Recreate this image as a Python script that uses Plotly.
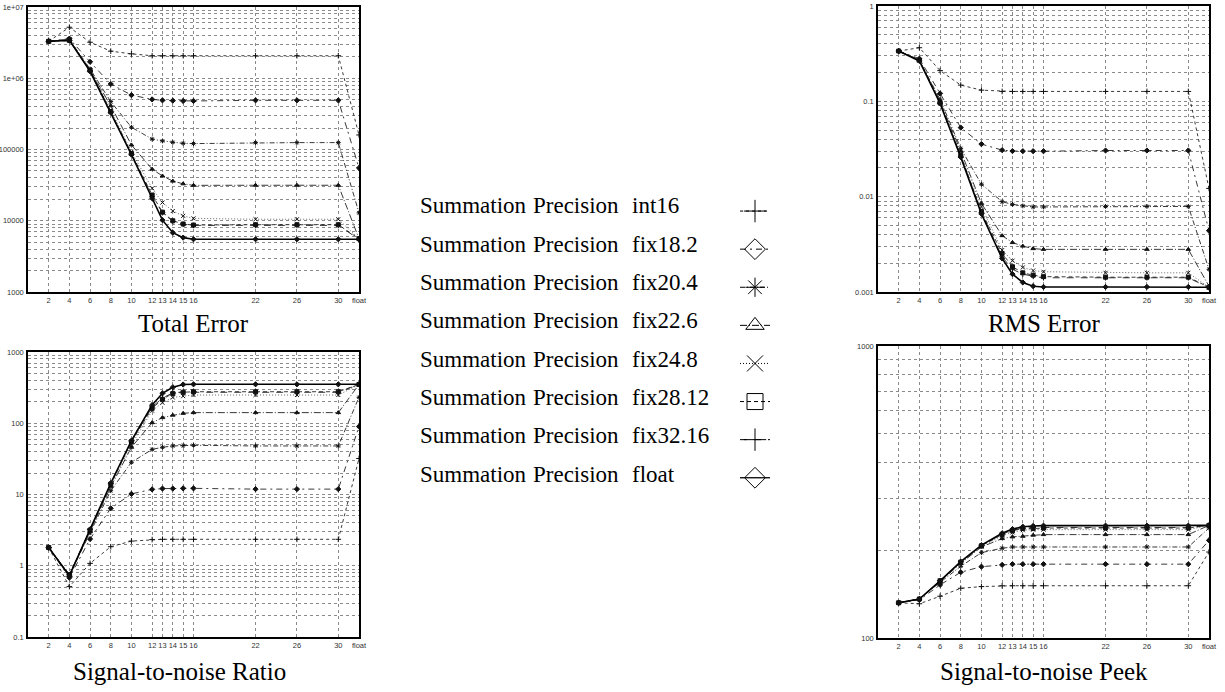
import plotly.graph_objects as go

W, H = 1225, 692

# ---------------- data ----------------
x_labels = ["2", "4", "6", "8", "10", "12", "13", "14", "15", "16", "22", "26", "30", "float"]
x_pos = [2, 4, 6, 8, 10, 12, 13, 14, 15, 16, 22, 26, 30, 32]

series_names = ["int16", "fix18.2", "fix20.4", "fix22.6", "fix24.8", "fix28.12", "fix32.16", "float"]

total_int16 = [3.3e6, 5.2e6, 3.2e6, 2.4e6, 2.2e6, 2.07e6, 2.07e6, 2.07e6, 2.07e6, 2.07e6, 2.07e6, 2.07e6, 2.07e6, 1.6e5]
total_fix18_2 = [3.3e6, 3.6e6, 1.7e6, 8.3e5, 5.8e5, 5.05e5, 4.9e5, 4.85e5, 4.8e5, 4.8e5, 4.9e5, 4.9e5, 4.9e5, 5.5e4]
total_fix20_4 = [3.3e6, 3.5e6, 1.35e6, 4.7e5, 2.05e5, 1.4e5, 1.32e5, 1.26e5, 1.22e5, 1.21e5, 1.25e5, 1.25e5, 1.25e5, 1.29e4]
total_fix22_6 = [3.3e6, 3.5e6, 1.3e6, 4.1e5, 1.16e5, 5.3e4, 4.25e4, 3.6e4, 3.3e4, 3.14e4, 3.15e4, 3.15e4, 3.15e4, 5.6e3]
total_fix24_8 = [3.3e6, 3.5e6, 1.3e6, 3.6e5, 9.3e4, 2.85e4, 1.8e4, 1.37e4, 1.17e4, 1.08e4, 1.05e4, 1.05e4, 1.05e4, 5.6e3]
total_fix28_12 = [3.3e6, 3.4e6, 1.3e6, 3.4e5, 8.8e4, 2.3e4, 1.32e4, 1.0e4, 9.0e3, 8.7e3, 8.8e3, 8.8e3, 8.8e3, 5.6e3]
total_fix32_16 = [3.3e6, 3.4e6, 1.28e6, 3.35e5, 8.7e4, 2.2e4, 1.3e4, 9.8e3, 8.9e3, 8.6e3, 8.6e3, 8.6e3, 8.6e3, 5.5e3]
total_float = [3.3e6, 3.4e6, 1.25e6, 3.3e5, 8.5e4, 2.07e4, 1.02e4, 6.8e3, 5.8e3, 5.5e3, 5.5e3, 5.5e3, 5.5e3, 5.5e3]

rms_int16 = [0.337, 0.365, 0.21, 0.148, 0.131, 0.127, 0.127, 0.127, 0.127, 0.127, 0.127, 0.127, 0.127, 0.0122]
rms_fix18_2 = [0.337, 0.28, 0.121, 0.053, 0.0356, 0.0308, 0.0301, 0.0300, 0.0300, 0.0300, 0.0305, 0.0305, 0.0305, 0.0044]
rms_fix20_4 = [0.337, 0.27, 0.105, 0.0321, 0.0135, 0.00885, 0.0083, 0.0080, 0.0078, 0.0078, 0.0079, 0.0079, 0.0079, 0.00173]
rms_fix22_6 = [0.337, 0.27, 0.100, 0.030, 0.0085, 0.0039, 0.0033, 0.00303, 0.00285, 0.0028, 0.0028, 0.0028, 0.0028, 0.00115]
rms_fix24_8 = [0.337, 0.27, 0.098, 0.028, 0.0078, 0.00275, 0.00213, 0.00181, 0.00168, 0.00163, 0.00159, 0.00159, 0.00159, 0.00112]
rms_fix28_12 = [0.337, 0.27, 0.097, 0.027, 0.0070, 0.00254, 0.00184, 0.00159, 0.0015, 0.00145, 0.00143, 0.00143, 0.00143, 0.00112]
rms_fix32_16 = [0.337, 0.27, 0.096, 0.0265, 0.0068, 0.00234, 0.00173, 0.00154, 0.00146, 0.00141, 0.00141, 0.00141, 0.00141, 0.00111]
rms_float = [0.337, 0.265, 0.095, 0.026, 0.0066, 0.00225, 0.00154, 0.00126, 0.00115, 0.00113, 0.00113, 0.00113, 0.00113, 0.00112]

snr_int16 = [1.8, 0.51, 1.08, 1.85, 2.22, 2.33, 2.35, 2.35, 2.35, 2.35, 2.35, 2.35, 2.35, 32]
snr_fix18_2 = [1.8, 0.68, 2.37, 6.4, 10.2, 11.8, 12.1, 12.1, 12.2, 12.2, 11.9, 11.9, 11.9, 90]
snr_fix20_4 = [1.8, 0.73, 2.9, 11.3, 28.3, 43, 46, 48, 48.5, 49, 48, 48, 48, 231]
snr_fix22_6 = [1.8, 0.74, 3.05, 12.8, 46, 102, 120, 130, 138, 141, 141, 141, 141, 350]
snr_fix24_8 = [1.8, 0.75, 3.1, 13.5, 50, 150, 194, 230, 240, 249, 249, 249, 249, 350]
snr_fix28_12 = [1.8, 0.75, 3.15, 14, 55, 162, 217, 262, 272, 277, 277, 277, 277, 350]
snr_fix32_16 = [1.8, 0.75, 3.2, 14.2, 56, 170, 225, 268, 275, 272, 272, 272, 272, 352]
snr_float = [1.8, 0.72, 3.25, 14.4, 57, 180, 263, 320, 350, 352, 352, 352, 352, 352]

peek_int16 = [132, 131, 139, 148, 150, 151, 151, 151, 151, 151, 151, 151, 151, 197]
peek_fix18_2 = [132, 135, 152, 168, 175.5, 178, 179, 179, 179, 179, 179, 179, 179, 216]
peek_fix20_4 = [132, 136, 155, 176, 196, 203, 205, 205, 205, 205, 205, 205, 205, 238]
peek_fix22_6 = [132, 136, 156, 180, 205, 219, 222, 223, 225, 226, 226, 226, 226, 243]
peek_fix24_8 = [132, 136, 157, 181, 206, 224, 230, 234, 235, 235, 235, 235, 235, 243]
peek_fix28_12 = [132, 136, 157, 182, 207, 226, 233, 237, 237, 238, 238, 238, 238, 243]
peek_fix32_16 = [132, 136, 157, 182, 207, 227, 234, 238, 239, 239, 239, 239, 239, 243]
peek_float = [132, 136, 157, 182.5, 208, 228.5, 236, 240.5, 242, 242.5, 242.5, 242.5, 242.5, 243]

total_error = [total_int16, total_fix18_2, total_fix20_4, total_fix22_6, total_fix24_8, total_fix28_12, total_fix32_16, total_float]
rms_error = [rms_int16, rms_fix18_2, rms_fix20_4, rms_fix22_6, rms_fix24_8, rms_fix28_12, rms_fix32_16, rms_float]
snr_ratio = [snr_int16, snr_fix18_2, snr_fix20_4, snr_fix22_6, snr_fix24_8, snr_fix28_12, snr_fix32_16, snr_float]
snr_peek = [peek_int16, peek_fix18_2, peek_fix20_4, peek_fix22_6, peek_fix24_8, peek_fix28_12, peek_fix32_16, peek_float]

te_ticklabels = ["1000", "10000", "100000", "1e+06", "1e+07"]
rms_ticklabels = ["0.001", "0.01", "0.1", "1"]
snr_ticklabels = ["0.1", "1", "10", "100", "1000"]
peek_ticklabels = ["100", "1000"]

panel_titles = ["Total Error", "RMS Error", "Signal-to-noise Ratio", "Signal-to-noise Peek"]
legend_words = ["Summation", "Precision"]

# ---------------- styles ----------------
dashes = ["3px,3px", "6px,4px,2px,4px", "5px,2px,1px,2px", "7px,2px,1px,2px", "1px,2px", "4px,3px", "7px,7px", "solid"]
widths = [0.9, 0.9, 0.9, 0.9, 0.9, 0.9, 0.9, 1.6]
colors = ["#222", "#222", "#222", "#222", "#555", "#222", "#222", "#000"]
plot_symbols = ["cross-thin", "diamond", "asterisk-open", "triangle-up", "x-thin", "square", "cross-thin", "diamond"]
legend_symbols = ["cross-thin", "diamond-open", "asterisk-open", "triangle-up-open", "x-thin", "square-open", "cross-thin", "diamond-open"]
plot_sizes = [4, 4, 4, 4, 4, 4, 4, 4]


def px_x(p):
    return p / W


def px_y(p):
    return 1 - p / H


fig = go.Figure()

panels = [
    (total_error, "x", "y"),
    (rms_error, "x2", "y2"),
    (snr_ratio, "x3", "y3"),
    (snr_peek, "x4", "y4"),
]

for data, xa, ya in panels:
    for i, name in enumerate(series_names):
        fig.add_trace(go.Scatter(
            x=x_pos, y=data[i], xaxis=xa, yaxis=ya,
            mode="lines+markers", showlegend=False, name=name,
            line=dict(color=colors[i], width=widths[i], dash=dashes[i]),
            marker=dict(symbol=plot_symbols[i], size=plot_sizes[i], color="#111",
                        line=dict(color="#111", width=1)),
        ))

# legend-only entries (symbol samples)
for i, name in enumerate(series_names):
    fig.add_trace(go.Scatter(
        x=[None], y=[None], xaxis="x", yaxis="y",
        mode="lines+markers", showlegend=True, name="\u00a0",
        line=dict(color="#000", width=1.0 if i < 7 else 1.3, dash=dashes[i]),
        marker=dict(symbol=legend_symbols[i], size=16, color="#000",
                    line=dict(color="#000", width=1)),
    ))


def log_ticks(lo_exp, hi_exp, labels):
    vals, texts = [], []
    for e in range(lo_exp, hi_exp):
        for m in range(1, 10):
            vals.append(m * 10.0 ** e)
            texts.append(labels[e - lo_exp] if m == 1 else "")
    vals.append(10.0 ** hi_exp)
    texts.append(labels[-1])
    return vals, texts


grid = dict(showgrid=True, gridcolor="#8a8a8a", gridwidth=1, griddash="dot")
frame = dict(showline=True, mirror=True, linecolor="#000", linewidth=1.5, zeroline=False,
             ticks="", automargin=False)
tickfont = dict(family="Liberation Sans, Arial, sans-serif", size=7.5, color="#333")

xdom_left = [px_x(28), px_x(359)]
xdom_right = [px_x(878), px_x(1209)]

yspecs = [
    (3, 7, te_ticklabels, [px_y(292), px_y(7)]),
    (-3, 0, rms_ticklabels, [px_y(292), px_y(6)]),
    (-1, 3, snr_ticklabels, [px_y(637), px_y(352)]),
    (2, 3, peek_ticklabels, [px_y(638), px_y(346)]),
]
xdoms = [xdom_left, xdom_right, xdom_left, xdom_right]

layout_axes = {}
for k in range(4):
    suffix = "" if k == 0 else str(k + 1)
    lo, hi, labs, ydom = yspecs[k]
    tv, tt = log_ticks(lo, hi, labs)
    layout_axes["xaxis" + suffix] = dict(
        domain=xdoms[k], range=[0, 32], tickmode="array", tickvals=x_pos, ticktext=x_labels,
        tickfont=tickfont, tickangle=0, anchor="y" + suffix, **grid, **frame,
    )
    layout_axes["yaxis" + suffix] = dict(
        domain=ydom, type="log", range=[lo, hi], tickmode="array", tickvals=tv, ticktext=tt,
        tickfont=tickfont, ticklabelstandoff=1, anchor="x" + suffix, **grid, **frame,
    )

annotations = []
title_pos = [(193.5, 323), (1043.5, 323), (179, 671), (1044, 671)]
for t, (cx, cy) in zip(panel_titles, title_pos):
    annotations.append(dict(
        text=t, x=px_x(cx), y=px_y(cy), xref="paper", yref="paper",
        xanchor="center", yanchor="middle", showarrow=False,
        font=dict(family="Liberation Serif, serif", size=25, color="#000"),
    ))

row0, row_step = 206, 38.3
legend_font = dict(family="Liberation Serif, Times New Roman, serif", size=23, color="#000")
for i, name in enumerate(series_names):
    yy = px_y(row0 + i * row_step)
    for word, xx in zip(legend_words + [name], [418, 531, 630]):
        annotations.append(dict(
            text=word, x=px_x(xx), y=yy, xref="paper", yref="paper",
            xanchor="left", yanchor="middle", showarrow=False, font=legend_font,
        ))

fig.update_layout(
    width=W, height=H,
    margin=dict(l=0, r=0, t=0, b=0),
    paper_bgcolor="white", plot_bgcolor="white",
    showlegend=True,
    legend=dict(
        x=px_x(735), y=px_y(187), xanchor="left", yanchor="top",
        bgcolor="rgba(0,0,0,0)", borderwidth=0,
        font=dict(family="Liberation Serif, serif", size=27, color="#000"),
        itemsizing="trace", tracegroupgap=0,
    ),
    annotations=annotations,
    **layout_axes,
)

fig.write_html(
    "out.html",
    config={"displayModeBar": False},
    post_script="document.body.style.margin='0';document.body.style.overflow='hidden';",
)
